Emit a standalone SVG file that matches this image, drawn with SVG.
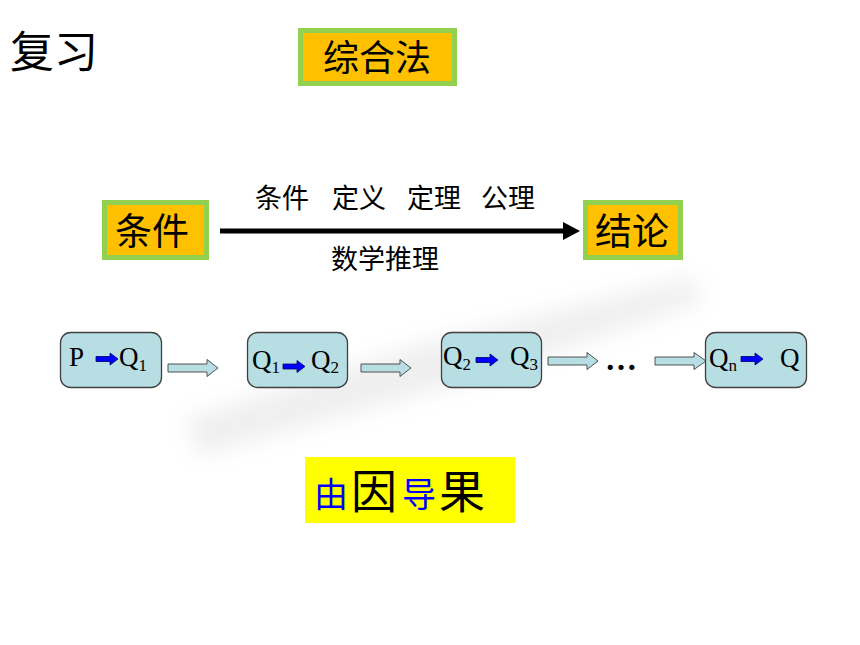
<svg xmlns="http://www.w3.org/2000/svg" width="860" height="645" viewBox="0 0 860 645">
<style>
.cjk{font-family:"Noto Sans CJK SC","Noto Sans CJK JP",sans-serif;fill:#000}
.gbox{fill:#FFC000;stroke:#92D050;stroke-width:5}
.node{fill:#B7DEE3;stroke:#404040;stroke-width:1.3}
.blk{fill:#B7DEE3;stroke:#505050;stroke-width:1}
.blue{fill:#0000FF;stroke:#000066;stroke-width:0.8}
.tm{font-family:"Liberation Serif","Times New Roman",serif;font-size:27px;fill:#000}
.sub{font-size:17px}
</style>
<defs>
<filter id="blur" x="-20%" y="-50%" width="140%" height="200%"><feGaussianBlur stdDeviation="11"/></filter>
</defs>
<rect width="860" height="645" fill="#fff"/>
<g id="smear" filter="url(#blur)" opacity="0.17">
<polygon points="185,420 420,345 690,278 705,300 470,380 200,455" fill="#a0a0a0"/>
</g>
<g id="title"><text class="cjk" x="10" y="68" font-size="44">复习</text></g>
<g id="method">
<rect class="gbox" x="300.5" y="30.5" width="154" height="53"/>
<text class="cjk" x="377" y="71" font-size="36" text-anchor="middle">综合法</text>
</g>
<g id="cond">
<rect class="gbox" x="104.5" y="202.5" width="102" height="55"/>
<text class="cjk" x="152" y="245" font-size="37" text-anchor="middle">条件</text>
</g>
<g id="concl">
<rect class="gbox" x="585.5" y="202.5" width="95" height="55"/>
<text class="cjk" x="632" y="245" font-size="37" text-anchor="middle">结论</text>
</g>
<g id="connectors">
<line x1="220" y1="231" x2="566" y2="231" stroke="#000" stroke-width="5"/>
<polygon points="563,222 580,231 563,240" fill="#000"/>
<path class="blk" d="M168,364 H207 V359.5 L218,368 L207,376.5 V372 H168 Z"/>
<path class="blk" d="M361,364 H400 V359.5 L411,368 L400,376.5 V372 H361 Z"/>
<path class="blk" d="M548,357 H587 V352.5 L598,361 L587,369.5 V365 H548 Z"/>
<path class="blk" d="M655,357 H694 V352.5 L706,361 L694,369.5 V365 H655 Z"/>
</g>
<g id="labels">
<text class="cjk" y="208" font-size="27"><tspan x="255">条件</tspan><tspan x="332">定义</tspan><tspan x="407">定理</tspan><tspan x="481">公理</tspan></text>
<text class="cjk" x="331" y="269" font-size="27">数学推理</text>
</g>
<g id="n1">
<rect class="node" x="60.5" y="332.5" width="101" height="55" rx="10"/>
<text class="tm" x="69" y="366">P</text>
<path class="blue" d="M96,356.5 H110 V353 L118,359 L110,365 V361.5 H96 Z"/>
<text class="tm" x="119" y="366">Q<tspan class="sub" dy="5">1</tspan></text>
</g>
<g id="n2">
<rect class="node" x="247.5" y="332.5" width="100" height="55" rx="10"/>
<text class="tm" x="252" y="369">Q<tspan class="sub" dy="4">1</tspan></text>
<path class="blue" d="M283,364 H297 V360.5 L305,366.5 L297,372.5 V369 H283 Z"/>
<text class="tm" x="311" y="369">Q<tspan class="sub" dy="4">2</tspan></text>
</g>
<g id="n3">
<rect class="node" x="441.5" y="332.5" width="100" height="55" rx="10"/>
<text class="tm" x="443" y="365">Q<tspan class="sub" dy="5">2</tspan></text>
<path class="blue" d="M476,357.5 H490 V354 L498,360 L490,366 V362.5 H476 Z"/>
<text class="tm" x="510" y="365">Q<tspan class="sub" dy="5">3</tspan></text>
</g>
<g id="dots"><text class="tm" x="621" y="370" text-anchor="middle" font-weight="bold" style="font-size:32px">…</text></g>
<g id="n4">
<rect class="node" x="705.5" y="332.5" width="101" height="55" rx="10"/>
<text class="tm" x="709" y="367">Q<tspan class="sub" dy="4">n</tspan></text>
<path class="blue" d="M741,356.5 H755 V353 L763,359 L755,365 V361.5 H741 Z"/>
<text class="tm" x="780" y="367">Q</text>
</g>
<g id="cause">
<rect x="305" y="457" width="210" height="66" fill="#FFFF00"/>
<text class="cjk" x="331" y="507" font-size="34" text-anchor="middle" style="fill:#0000FF">由</text>
<text class="cjk" x="374" y="508" font-size="46" text-anchor="middle">因</text>
<text class="cjk" x="419" y="507" font-size="34" text-anchor="middle" style="fill:#0000FF">导</text>
<text class="cjk" x="462" y="508" font-size="46" text-anchor="middle">果</text>
</g>
</svg>
